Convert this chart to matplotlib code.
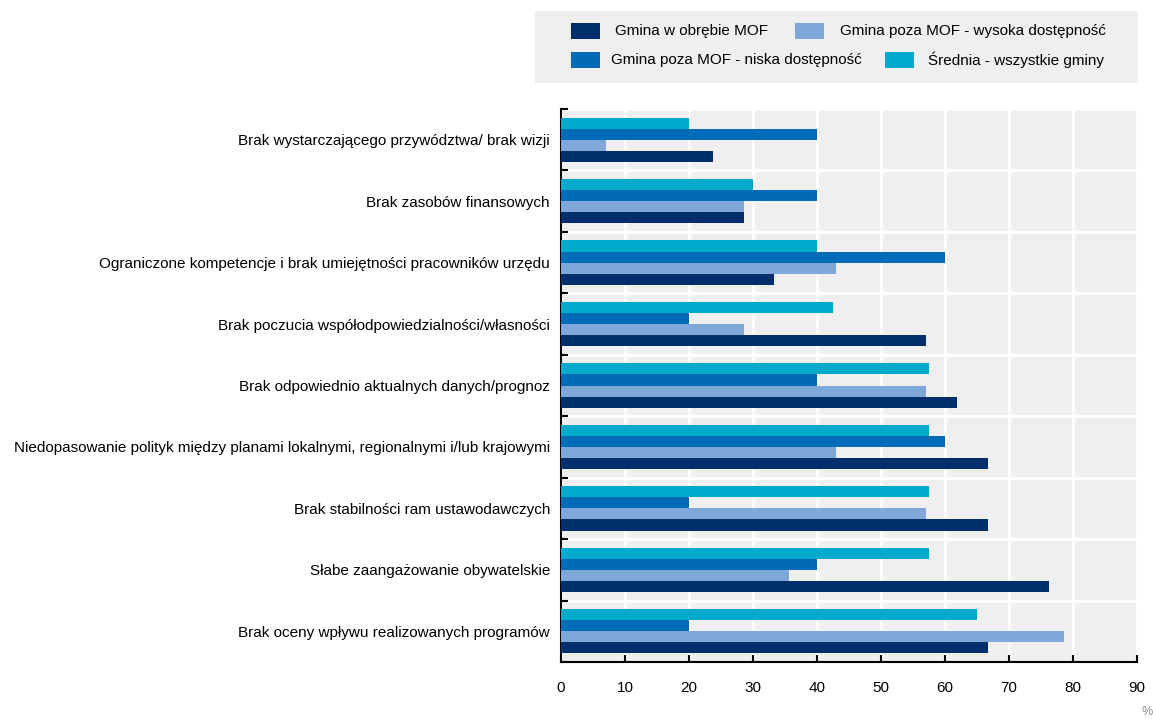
import matplotlib
matplotlib.use("Agg")
import matplotlib.pyplot as plt
import numpy as np
from matplotlib.patches import Rectangle

plt.rcParams['font.family'] = ['Liberation Sans', 'DejaVu Sans']

categories = [
    "Brak wystarczającego przywództwa/ brak wizji",
    "Brak zasobów finansowych",
    "Ograniczone kompetencje i brak umiejętności pracowników urzędu",
    "Brak poczucia współodpowiedzialności/własności",
    "Brak odpowiednio aktualnych danych/prognoz",
    "Niedopasowanie polityk między planami lokalnymi, regionalnymi i/lub krajowymi",
    "Brak stabilności ram ustawodawczych",
    "Słabe zaangażowanie obywatelskie",
    "Brak oceny wpływu realizowanych programów",
]

# wartości w %
mof = [23.8, 28.6, 33.3, 57.1, 61.9, 66.7, 66.7, 76.2, 66.7]
wysoka = [7.1, 28.6, 42.9, 28.6, 57.1, 42.9, 57.1, 35.7, 78.6]
niska = [40, 40, 60, 20, 40, 60, 20, 40, 20]
srednia = [20, 30, 40, 42.5, 57.5, 57.5, 57.5, 57.5, 65]

labels = ["Gmina w obrębie MOF", "Gmina poza MOF - wysoka dostępność",
          "Gmina poza MOF - niska dostępność", "Średnia - wszystkie gminy"]
colors = {"mof": "#002F6C", "wysoka": "#7FA7D9", "niska": "#006BB6", "srednia": "#00AACC"}

W, H = 1153, 719
fig = plt.figure(figsize=(W / 100, H / 100), dpi=100)
ax = fig.add_axes([561 / W, 1 - 662 / H, (1137 - 561) / W, (662 - 109) / H])
ax.set_facecolor("#efefef")

y = np.arange(len(categories))
h = 0.18
ax.barh(y - 1.5 * h, srednia, height=h, color=colors["srednia"], zorder=3)
ax.barh(y - 0.5 * h, niska, height=h, color=colors["niska"], zorder=3)
ax.barh(y + 0.5 * h, wysoka, height=h, color=colors["wysoka"], zorder=3)
ax.barh(y + 1.5 * h, mof, height=h, color=colors["mof"], zorder=3)

ax.set_xlim(0, 90)
ax.set_ylim(len(categories) - 0.5, -0.5)
ax.set_xticks(np.arange(0, 91, 10))
ax.set_yticks(y)
ax.set_yticklabels(categories, fontsize=11)
ax.set_yticks(np.arange(-0.5, len(categories), 1), minor=True)
ax.tick_params(axis="y", which="major", length=0, pad=8)
ax.tick_params(axis="y", which="minor", direction="in", length=5, width=1.5)
ax.tick_params(axis="x", direction="in", length=5, width=1.5, pad=14, labelsize=11)
ax.grid(axis="x", color="white", linewidth=2, zorder=1)
ax.grid(axis="y", which="minor", color="white", linewidth=2, zorder=1)
ax.set_axisbelow(True)
for s in ["top", "right"]:
    ax.spines[s].set_visible(False)
for s in ["left", "bottom"]:
    ax.spines[s].set_linewidth(1.5)
    ax.spines[s].set_color("black")

# legenda
fig.patches.append(Rectangle((535 / W, 1 - 83 / H), (1138 - 535) / W, 72 / H,
                             transform=fig.transFigure, facecolor="#efefef",
                             edgecolor="none"))
leg = [
    (571, 31, colors["mof"], 615, labels[0]),
    (795, 31, colors["wysoka"], 840, labels[1]),
    (571, 60, colors["niska"], 611, labels[2]),
    (885, 60, colors["srednia"], 928, labels[3]),
]
for hx, hy, c, tx, t in leg:
    fig.patches.append(Rectangle((hx / W, 1 - (hy + 8) / H), 29 / W, 16 / H,
                                 transform=fig.transFigure, facecolor=c))
    fig.text(tx / W, 1 - hy / H, t, fontsize=11, va="center", ha="left")

fig.text(1141 / W, 1 - 712 / H, "%", fontsize=9, color="#888888", va="center", ha="left")

fig.savefig("out.png", dpi=100)
